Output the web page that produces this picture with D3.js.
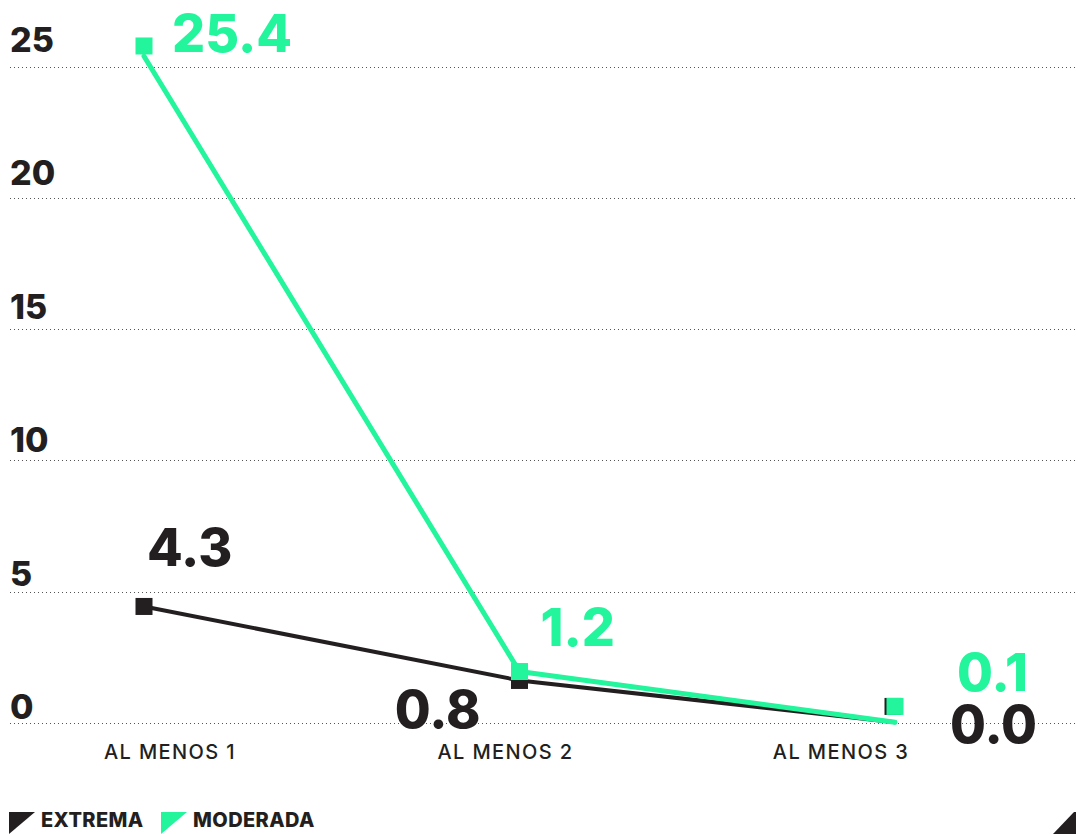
<!DOCTYPE html>
<html>
<head>
<meta charset="utf-8">
<script src="https://cdn.jsdelivr.net/npm/d3@7"></script>
<style>
  body { margin: 0; background: #fff; }
  svg { display: block; }
  .tick-label { font-family: Inter, sans-serif; font-weight: 800; font-size: 34px; fill: #231f20; }
  .cat-label { font-family: Inter, sans-serif; font-weight: 500; font-size: 20px; fill: #231f20; letter-spacing: 1.4px; }
  .value-label { font-family: Inter, sans-serif; font-weight: 800; font-size: 52px; }
  .legend-label { font-family: Inter, sans-serif; font-weight: 800; font-size: 20px; fill: #231f20; letter-spacing: 0.4px; }
</style>
</head>
<body>
<div id="chart"></div>
<script>
// data
var categories = ["AL MENOS 1", "AL MENOS 2", "AL MENOS 3"];
var yTicks = [0, 5, 10, 15, 20, 25];

// printed values
var extremaLabels = ["4.3", "0.8", "0.0"];
var moderadaLabels = ["25.4", "1.2", "0.1"];

// where the lines sit in the picture
var extremaLine = [4.43, 1.61, 0.02];
var moderadaLine = [25.4, 1.95, 0.02];

// where the square markers sit in the picture
var extremaMarkers = [4.43, 1.61, 0.62];
var moderadaMarkers = [25.79, 1.95, 0.62];

var legendNames = ["EXTREMA", "MODERADA"];

var colors = { extrema: "#231f20", moderada: "#22f59b" };

var width = 1076, height = 834;

var svg = d3.select("#chart").append("svg")
    .attr("width", width)
    .attr("height", height);

var x = d3.scalePoint()
    .domain(categories)
    .range([144, 895]);

// category labels are not centered on the points
var xLabel = d3.scalePoint()
    .domain(categories)
    .range([170, 841]);

var y = d3.scaleLinear()
    .domain([0, 25])
    .range([722.7, 66.7]);

// tick texts are spaced a little wider than the gridlines
var yLabel = d3.scaleLinear()
    .domain([0, 25])
    .range([719, 52]);

// gridlines
svg.append("g")
    .selectAll("line")
    .data(yTicks)
    .enter().append("line")
    .attr("x1", 10)
    .attr("x2", width)
    .attr("y1", function(d) { return Math.round(y(d)) + 0.5; })
    .attr("y2", function(d) { return Math.round(y(d)) + 0.5; })
    .attr("stroke", "#555")
    .attr("stroke-width", 1)
    .attr("stroke-dasharray", "1,3");

svg.append("g")
    .selectAll("text")
    .data(yTicks)
    .enter().append("text")
    .attr("class", "tick-label")
    .attr("x", 10)
    .attr("y", function(d) { return yLabel(d); })
    .text(function(d) { return d; });

// category labels
svg.append("g")
    .selectAll("text")
    .data(categories)
    .enter().append("text")
    .attr("class", "cat-label")
    .attr("text-anchor", "middle")
    .attr("x", function(d) { return xLabel(d); })
    .attr("y", 759)
    .text(function(d) { return d; });

var line = d3.line()
    .x(function(d, i) { return x(categories[i]); })
    .y(function(d) { return y(d); });

var series = [
    { key: "extrema", line: extremaLine, markers: extremaMarkers, labels: extremaLabels, width: 4 },
    { key: "moderada", line: moderadaLine, markers: moderadaMarkers, labels: moderadaLabels, width: 5 }
];

// label offsets from marker centre: [dx, dy, anchor]
var labelOffsets = {
    extrema: [[3, -40, "start"], [-39, 48, "end"], [55, 37, "start"]],
    moderada: [[28, 6, "start"], [21, -26, "start"], [62, -15, "start"]]
};

series.forEach(function(s) {
    svg.append("path")
        .datum(s.line)
        .attr("d", line)
        .attr("fill", "none")
        .attr("stroke", colors[s.key])
        .attr("stroke-width", s.width)
        .attr("stroke-linecap", "round")
        .attr("stroke-linejoin", "round");
});

series.forEach(function(s) {
    var sz = 17;
    svg.append("g")
        .selectAll("rect")
        .data(s.markers)
        .enter().append("rect")
        .attr("x", function(d, i) { return x(categories[i]) - sz / 2 - (s.key == "extrema" && i == 2 ? 2 : 0); })
        .attr("y", function(d) { return y(d) - sz / 2; })
        .attr("width", sz)
        .attr("height", sz)
        .attr("fill", colors[s.key]);
});

series.forEach(function(s) {
    svg.append("g")
        .selectAll("text")
        .data(s.labels)
        .enter().append("text")
        .attr("class", "value-label")
        .attr("fill", colors[s.key])
        .attr("text-anchor", function(d, i) { return labelOffsets[s.key][i][2]; })
        .attr("x", function(d, i) { return x(categories[i]) + labelOffsets[s.key][i][0]; })
        .attr("y", function(d, i) { return y(s.markers[i]) + labelOffsets[s.key][i][1]; })
        .text(function(d) { return d; });
});

// legend
var legend = svg.append("g");
var legendX = [9, 161];
legendNames.forEach(function(name, i) {
    var c = i == 0 ? colors.extrema : colors.moderada;
    var lx = legendX[i];
    legend.append("path")
        .attr("d", "M" + lx + ",812 L" + (lx + 26) + ",812 L" + lx + ",834 Z")
        .attr("fill", c);
    legend.append("text")
        .attr("class", "legend-label")
        .attr("x", lx + 32)
        .attr("y", 827)
        .text(name);
});

// corner mark
svg.append("path")
    .attr("d", "M1053,834 L1074,812 L1076,812 L1076,834 Z")
    .attr("fill", colors.extrema);
</script>
</body>
</html>
